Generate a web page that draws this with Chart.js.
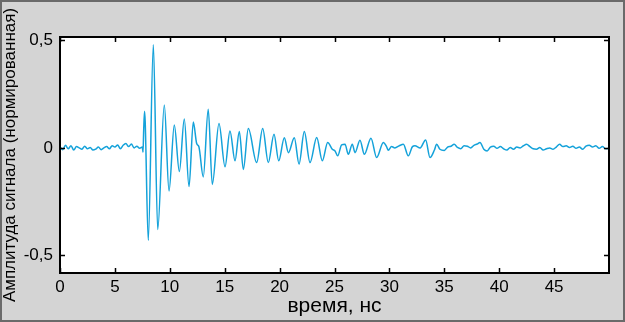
<!DOCTYPE html>
<html>
<head>
<meta charset="utf-8">
<script src="https://cdn.jsdelivr.net/npm/chart.js@4.4.1/dist/chart.umd.min.js"></script>
<style>
  html, body { margin: 0; padding: 0; background: #d4d4d4; }
</style>
</head>
<body>
<canvas id="chart" width="625" height="322"></canvas>
<script>
// время (нс) и амплитуда
const timeNs = [
  0, 0.25, 0.5, 0.75, 1, 1.25, 1.5, 1.75, 2, 2.25, 2.5, 2.75, 3, 3.25, 3.5, 3.75,
  4, 4.25, 4.5, 4.75, 5, 5.25, 5.5, 5.75, 6, 6.25, 6.5, 6.75, 7, 7.25, 7.5,
  7.56, 7.62, 7.7, 7.76, 8.04, 8.5, 8.9, 9.5, 9.93, 10.41, 10.87, 11.32, 11.75, 12.14,
  12.45, 12.65, 13.05, 13.5, 13.87, 14.48, 15.03, 15.48, 15.94, 16.33, 16.7, 17.15,
  17.91, 18.46, 18.97, 19.49, 19.92, 20.43, 20.8, 21.34, 21.77, 22.25, 22.77, 23.38,
  23.89, 24.38, 24.8, 25.05, 25.29, 25.65, 25.96, 26.26, 26.62, 26.87, 27.32, 27.72,
  28.32, 28.84, 29.45, 29.75, 29.9, 30.2, 30.5, 30.9, 31.27, 31.72, 32.1, 32.33, 32.8,
  33.3, 33.7, 34.1, 34.3, 34.6, 35, 35.3, 35.6, 35.9, 36.2, 36.5, 36.8, 37.1, 37.4,
  37.7, 38, 38.25, 38.6, 38.9, 39.2, 39.5, 39.8, 40.1, 40.4, 40.7, 41, 41.3, 41.6,
  41.9, 42.2, 42.5, 42.8, 43.1, 43.4, 43.7, 44, 44.3, 44.6, 44.9, 45.2, 45.5, 45.8,
  46.1, 46.4, 46.7, 47, 47.3, 47.6, 47.9, 48.2, 48.5, 48.8, 49.1, 49.4, 49.7, 50
];
const amplitude = [
  0.005, -0.008, 0.012, -0.004, 0.01, -0.01, 0.006, 0, -0.006, 0.008, -0.004, 0.002, -0.01, -0.006, 0.004, -0.008,
  0, 0.006, -0.004, 0.01, 0.004, 0.014, -0.004, 0.012, 0.02, 0.006, 0.018, 0, 0.008, -0.002, 0.004,
  -0.02, 0.08, 0.17, 0.12, -0.43, 0.48, -0.38, 0.2, -0.2, 0.107, -0.11, 0.135, -0.18, 0.12,
  0.02, 0.005, -0.135, 0.18, -0.17, 0.113, -0.088, 0.079, -0.06, 0.076, -0.1, 0.09,
  -0.068, 0.09, -0.068, 0.064, -0.06, 0.047, -0.022, 0.047, -0.075, 0.076, -0.068, 0.048,
  -0.06, 0.025, -0.006, -0.014, -0.037, 0.014, 0.017, -0.03, 0.017, -0.022, 0.036, -0.03,
  0.045, -0.045, 0.025, 0.005, -0.011, 0.006, 0, 0.01, 0.017, -0.037, 0.006, 0.01, 0,
  0.037, -0.045, -0.01, 0.017, -0.006, -0.012, 0.004, 0.008, 0.017, 0.002, -0.004, 0.01, 0.008, 0,
  0.012, 0.018, 0.025, -0.006, -0.014, 0.004, 0.008, -0.002, 0.006, -0.004, -0.01, 0.002, -0.006, 0.004,
  0, 0.01, 0.017, 0.006, -0.004, -0.006, 0.002, -0.01, -0.004, 0, -0.006, 0.004, 0.017, 0.006,
  0.01, 0.002, 0.008, -0.002, 0.004, -0.006, 0.008, 0.012, 0.004, 0.01, -0.002, 0.006, -0.004, -0.002
];
const xTicks = [0, 5, 10, 15, 20, 25, 30, 35, 40, 45];
const yTicks = [-0.5, 0, 0.5];

const font = "'Liberation Sans', Arial, sans-serif";

// рамка графика, засечки внутрь, серый фон
const framePlugin = {
  id: 'frame',
  beforeDraw(chart) {
    let ctx = chart.ctx, a = chart.chartArea;
    ctx.save();
    ctx.fillStyle = '#d4d4d4';
    ctx.fillRect(0, 0, chart.width, chart.height);
    ctx.fillStyle = '#ffffff';
    ctx.fillRect(a.left, a.top, a.right - a.left, a.bottom - a.top);
    ctx.restore();
  },
  afterDraw(chart) {
    let ctx = chart.ctx, a = chart.chartArea;
    let xs = chart.scales.x, ys = chart.scales.y;
    ctx.save();
    ctx.strokeStyle = '#000';
    ctx.lineWidth = 1.5;
    ctx.beginPath();
    xTicks.forEach(function(v) {
      let px = Math.round(xs.getPixelForValue(v)) + 0.5;
      ctx.moveTo(px, a.bottom); ctx.lineTo(px, a.bottom - 5);
      ctx.moveTo(px, a.top); ctx.lineTo(px, a.top + 5);
    });
    yTicks.forEach(function(v) {
      let py = Math.round(ys.getPixelForValue(v)) + 0.5;
      ctx.moveTo(a.left, py); ctx.lineTo(a.left + 5, py);
      ctx.moveTo(a.right, py); ctx.lineTo(a.right - 5, py);
    });
    ctx.stroke();
    ctx.lineWidth = 2;
    ctx.strokeRect(a.left, a.top, a.right - a.left, a.bottom - a.top);
    ctx.strokeStyle = '#6a6a6a';
    ctx.strokeRect(1, 1, chart.width - 2, chart.height - 2);
    ctx.restore();
  }
};

new Chart(document.getElementById('chart'), {
  type: 'line',
  data: {
    labels: timeNs,
    datasets: [{
      data: timeNs.map((t, i) => ({ x: t, y: amplitude[i] })),
      borderColor: '#14a2da',
      borderWidth: 1.5,
      pointRadius: 0,
      cubicInterpolationMode: 'monotone',
      fill: false
    }]
  },
  options: {
    responsive: false,
    animation: false,
    devicePixelRatio: 1,
    layout: { padding: { top: 37, right: 16, left: 0, bottom: 0 } },
    plugins: { legend: { display: false }, tooltip: { enabled: false } },
    scales: {
      x: {
        type: 'linear',
        min: 0,
        max: 50,
        grid: { display: false, drawTicks: false },
        border: { display: false },
        afterBuildTicks: s => { s.ticks = xTicks.map(v => ({ value: v })); },
        afterFit: s => { s.height = 49; },
        ticks: { color: '#000', padding: 4, maxRotation: 0, font: { family: font, size: 17 } },
        title: {
          display: true,
          text: 'время, нс',
          color: '#000',
          font: { family: font, size: 21 },
          padding: { top: 0, bottom: 3 }
        }
      },
      y: {
        min: -0.582,
        max: 0.516,
        grid: { display: false, drawTicks: false },
        border: { display: false },
        afterBuildTicks: s => { s.ticks = yTicks.map(v => ({ value: v })); },
        afterFit: s => { s.width = 60; },
        ticks: {
          color: '#000',
          padding: 7,
          font: { family: font, size: 17 },
          callback: v => String(v).replace('.', ',')
        },
        title: {
          display: true,
          text: 'Амплитуда сигнала (нормированная)',
          color: '#000',
          font: { family: font, size: 17 },
          padding: 0
        }
      }
    }
  },
  plugins: [framePlugin]
});
</script>
</body>
</html>
